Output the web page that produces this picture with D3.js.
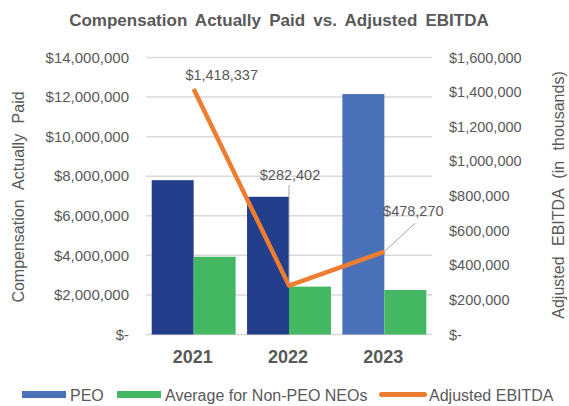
<!DOCTYPE html>
<html>
<head>
<meta charset="UTF-8">
<script src="https://d3js.org/d3.v7.min.js"></script>
<style>
  body { margin: 0; background: #fff; }
  text { font-family: "Liberation Sans", Arial, sans-serif; fill: #595959; }
</style>
</head>
<body>
<svg class="chart"></svg>
<script>
var years = ["2021", "2022", "2023"];
var peo = [7800000, 6960000, 12150000];
var nonPeo = [3930000, 2420000, 2250000];
var ebitda = [1418337, 282402, 478270];
var ebitdaLabels = ["$1,418,337", "$282,402", "$478,270"];
var leftTicks = [0, 2000000, 4000000, 6000000, 8000000, 10000000, 12000000, 14000000];
var rightTicks = [0, 200000, 400000, 600000, 800000, 1000000, 1200000, 1400000, 1600000];

var width = 569, height = 406;
var margin = {top: 57.5, right: 137, bottom: 71.5, left: 146};

var svg = d3.select(".chart").attr("width", width).attr("height", height);

var x = d3.scaleBand().domain(years).range([margin.left, width - margin.right]).paddingInner(0.12).paddingOuter(0.06);
var xs = d3.scaleBand().domain(["peo", "non"]).range([0, x.bandwidth()]);
var yL = d3.scaleLinear().domain([0, 14000000]).range([height - margin.bottom, margin.top]);
var yR = d3.scaleLinear().domain([0, 1600000]).range([height - margin.bottom, margin.top]);

function money(v) { return v === 0 ? "$-" : "$" + d3.format(",")(v); }

// gridlines
svg.append("g").selectAll("line").data(leftTicks).enter().append("line")
  .attr("x1", margin.left).attr("x2", width - margin.right)
  .attr("y1", function(d) { return yL(d); }).attr("y2", function(d) { return yL(d); })
  .attr("stroke", "#d9d9d9").attr("stroke-width", 1.5);

// left axis labels
svg.append("g").selectAll("text").data(leftTicks).enter().append("text")
  .attr("x", 129).attr("y", function(d) { return yL(d); }).attr("dy", "0.35em")
  .attr("text-anchor", "end").style("font-size", "15px").text(money);

// right axis labels
svg.append("g").selectAll("text").data(rightTicks).enter().append("text")
  .attr("x", 449).attr("y", function(d) { return yR(d); }).attr("dy", "0.35em")
  .attr("text-anchor", "start").style("font-size", "14.5px").text(money);

// bars
var bars = svg.append("g");
bars.selectAll("rect.peo").data(peo).enter().append("rect")
  .attr("x", function(d, i) { return x(years[i]) + xs("peo"); })
  .attr("width", xs.bandwidth())
  .attr("y", function(d) { return yL(d); })
  .attr("height", function(d) { return yL(0) - yL(d); })
  .attr("fill", function(d, i) { return i < 2 ? "#233E8B" : "#4A70B7"; });
bars.selectAll("rect.non").data(nonPeo).enter().append("rect")
  .attr("x", function(d, i) { return x(years[i]) + xs("non"); })
  .attr("width", xs.bandwidth())
  .attr("y", function(d) { return yL(d); })
  .attr("height", function(d) { return yL(0) - yL(d); })
  .attr("fill", "#44B762");

// x labels
svg.append("g").selectAll("text").data(years).enter().append("text")
  .attr("x", function(d) { return x(d) + x.bandwidth() / 2 - 1; })
  .attr("y", 357).attr("dy", "0.35em").attr("text-anchor", "middle")
  .style("font-size", "18px").style("font-weight", "bold").text(function(d) { return d; });

// ebitda line
var cx = function(i) { return x(years[i]) + x.bandwidth() / 2; };
var line = d3.line().x(function(d, i) { return cx(i); }).y(function(d) { return yR(d); });
svg.append("path").datum(ebitda).attr("d", line)
  .attr("fill", "none").attr("stroke", "#ED7D31").attr("stroke-width", 4.5).attr("stroke-linejoin", "round");

// leader lines
svg.append("line").attr("x1", cx(1)).attr("x2", cx(1)).attr("y1", 185).attr("y2", yR(ebitda[1]) - 2)
  .attr("stroke", "#a6a6a6").attr("stroke-width", 1);
svg.append("line").attr("x1", cx(2) + 1).attr("x2", cx(2) + 31).attr("y1", yR(ebitda[2]) - 1).attr("y2", 223)
  .attr("stroke", "#a6a6a6").attr("stroke-width", 1);

// data labels
var labelPos = [[cx(0) + 28, 75], [cx(1) + 1, 175], [cx(2) + 29, 211]];
svg.append("g").selectAll("text").data(ebitdaLabels).enter().append("text")
  .attr("x", function(d, i) { return labelPos[i][0]; })
  .attr("y", function(d, i) { return labelPos[i][1]; })
  .attr("dy", "0.35em").attr("text-anchor", "middle")
  .style("font-size", "14.5px").text(function(d) { return d; });

// title
svg.append("text").attr("x", 279).attr("y", 20).attr("dy", "0.35em").attr("text-anchor", "middle")
  .style("font-size", "17px").style("font-weight", "bold").style("word-spacing", "3.5px")
  .text("Compensation Actually Paid vs. Adjusted EBITDA");

// axis titles
svg.append("text").attr("transform", "translate(18,197) rotate(-90)").attr("dy", "0.35em")
  .attr("text-anchor", "middle").style("font-size", "16px").style("word-spacing", "6px")
  .text("Compensation Actually Paid");
svg.append("text").attr("transform", "translate(558,195) rotate(-90)").attr("dy", "0.35em")
  .attr("text-anchor", "middle").style("font-size", "16px").style("word-spacing", "6px")
  .text("Adjusted EBITDA (in thousands)");

// legend
var legend = [
  {name: "PEO", color: "#4A70B7", x: 22, tx: 70, type: "rect"},
  {name: "Average for Non-PEO NEOs", color: "#44B762", x: 117, tx: 165, type: "rect"},
  {name: "Adjusted EBITDA", color: "#ED7D31", x: 379, tx: 429, type: "line"}
];
var lg = svg.append("g").selectAll("g").data(legend).enter().append("g");
lg.append("rect").attr("x", function(d) { return d.x; })
  .attr("y", function(d) { return d.type === "rect" ? 391 : 392; })
  .attr("width", function(d) { return d.type === "rect" ? 44 : 48; })
  .attr("height", function(d) { return d.type === "rect" ? 7 : 5; })
  .attr("rx", function(d) { return d.type === "rect" ? 0 : 2.5; })
  .attr("fill", function(d) { return d.color; });
lg.append("text").attr("x", function(d) { return d.tx; }).attr("y", 395).attr("dy", "0.35em")
  .style("font-size", "16px").text(function(d) { return d.name; });
</script>
</body>
</html>
